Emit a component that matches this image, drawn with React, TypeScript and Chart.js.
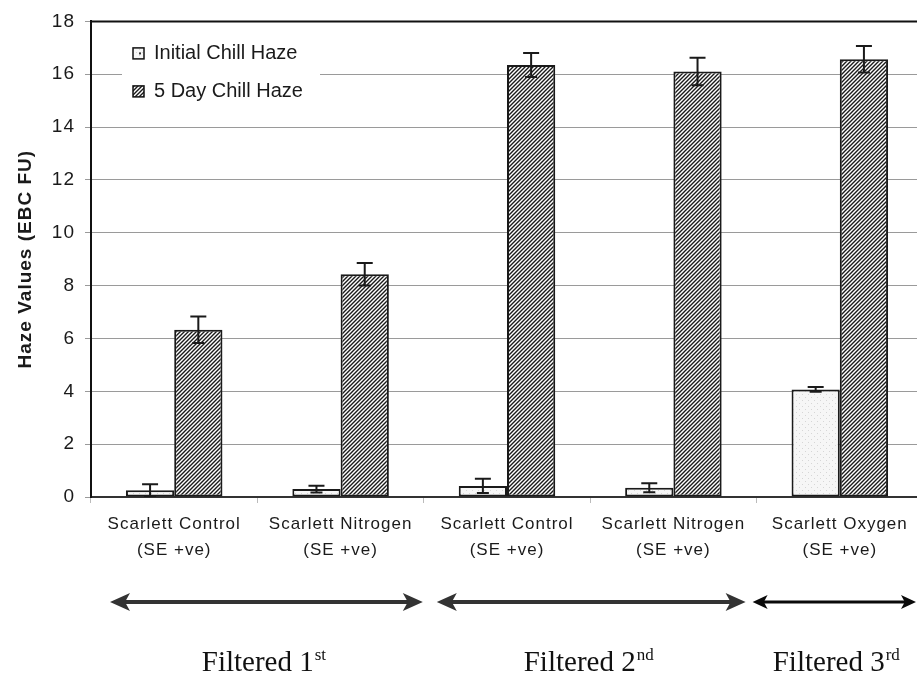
import { useEffect, useRef } from 'react';
import { Chart, registerables } from 'chart.js';

Chart.register(...registerables);

// Sample categories (two-line tick labels)
const categories: string[][] = [
  ['Scarlett Control', '(SE +ve)'],
  ['Scarlett Nitrogen', '(SE +ve)'],
  ['Scarlett Control', '(SE +ve)'],
  ['Scarlett Nitrogen', '(SE +ve)'],
  ['Scarlett Oxygen', '(SE +ve)'],
];

// Haze readings (EBC FU) and their standard errors
const initialHaze = [0.26, 0.3, 0.42, 0.35, 4.07];
const initialHazeSE = [0.22, 0.13, 0.27, 0.17, 0.09];
const fiveDayHaze = [6.33, 8.43, 16.35, 16.1, 16.57];
const fiveDayHazeSE = [0.5, 0.43, 0.45, 0.52, 0.5];

const seriesNames = ['Initial Chill Haze', '5 Day Chill Haze'];

// Y axis range
const yMax = 18;
const yStep = 2;

// Filtration groupings shown beneath the axis
const filterGroups = [
  { label: 'Filtered 1', sup: 'st', first: 0, last: 1 },
  { label: 'Filtered 2', sup: 'nd', first: 2, last: 3 },
  { label: 'Filtered 3', sup: 'rd', first: 4, last: 4 },
];

const SANS = '"Liberation Sans", Arial, sans-serif';
const SERIF = '"Liberation Serif", "Times New Roman", serif';

function makeHatch(): CanvasPattern | string {
  const size = 4;
  const c = document.createElement('canvas');
  c.width = size;
  c.height = size;
  const g = c.getContext('2d');
  if (!g) return '#777';
  g.fillStyle = '#ffffff';
  g.fillRect(0, 0, size, size);
  g.strokeStyle = '#1a1a1a';
  g.lineWidth = 1.4;
  g.beginPath();
  g.moveTo(-1, size + 1);
  g.lineTo(size + 1, -1);
  g.moveTo(-1, 1);
  g.lineTo(1, -1);
  g.moveTo(size - 1, size + 1);
  g.lineTo(size + 1, size - 1);
  g.stroke();
  return g.createPattern(c, 'repeat') || '#777';
}

function makeSpeckle(): CanvasPattern | string {
  const size = 6;
  const c = document.createElement('canvas');
  c.width = size;
  c.height = size;
  const g = c.getContext('2d');
  if (!g) return '#f4f4f4';
  g.fillStyle = '#f6f6f6';
  g.fillRect(0, 0, size, size);
  g.fillStyle = '#d6d6d6';
  g.fillRect(1, 1, 1, 1);
  g.fillRect(4, 4, 1, 1);
  return g.createPattern(c, 'repeat') || '#f4f4f4';
}

function drawArrow(
  ctx: CanvasRenderingContext2D,
  x1: number,
  x2: number,
  y: number,
  lw: number,
  headLen: number,
  headHalf: number,
  color: string
) {
  ctx.save();
  ctx.strokeStyle = color;
  ctx.fillStyle = color;
  ctx.lineWidth = lw;
  ctx.beginPath();
  ctx.moveTo(x1 + headLen * 0.7, y);
  ctx.lineTo(x2 - headLen * 0.7, y);
  ctx.stroke();
  ctx.beginPath();
  ctx.moveTo(x1, y);
  ctx.lineTo(x1 + headLen, y - headHalf);
  ctx.lineTo(x1 + headLen * 0.75, y);
  ctx.lineTo(x1 + headLen, y + headHalf);
  ctx.closePath();
  ctx.fill();
  ctx.beginPath();
  ctx.moveTo(x2, y);
  ctx.lineTo(x2 - headLen, y - headHalf);
  ctx.lineTo(x2 - headLen * 0.75, y);
  ctx.lineTo(x2 - headLen, y + headHalf);
  ctx.closePath();
  ctx.fill();
  ctx.restore();
}

export default function App() {
  const canvasRef = useRef<HTMLCanvasElement | null>(null);

  useEffect(() => {
    const canvas = canvasRef.current;
    if (!canvas) return;
    const hatch = makeHatch();
    const speckle = makeSpeckle();
    const errors = [initialHazeSE, fiveDayHazeSE];
    const fills = [speckle, hatch];

    // axis text is set slightly letter-spaced
    const spacedAxisText = {
      id: 'spacedAxisText',
      beforeDraw(chart: any) {
        (chart.ctx as any).letterSpacing = '1px';
      },
      beforeDatasetsDraw(chart: any) {
        (chart.ctx as any).letterSpacing = '0px';
      },
    };

    const errorBars = {
      id: 'errorBars',
      afterDatasetsDraw(chart: any) {
        const { ctx } = chart;
        const y = chart.scales.y;
        ctx.save();
        ctx.strokeStyle = '#1a1a1a';
        ctx.lineWidth = 2;
        chart.data.datasets.forEach((ds: any, i: number) => {
          const meta = chart.getDatasetMeta(i);
          meta.data.forEach((el: any, j: number) => {
            const v = ds.data[j];
            const e = errors[i][j];
            const top = y.getPixelForValue(v + e);
            const bot = y.getPixelForValue(Math.max(0, v - e));
            ctx.beginPath();
            ctx.moveTo(el.x, top);
            ctx.lineTo(el.x, bot);
            ctx.moveTo(el.x - 8, top);
            ctx.lineTo(el.x + 8, top);
            ctx.moveTo(el.x - 6, bot);
            ctx.lineTo(el.x + 6, bot);
            ctx.stroke();
          });
        });
        ctx.restore();
      },
    };

    const frameAndLegend = {
      id: 'frameAndLegend',
      afterDatasetsDraw(chart: any) {
        const { ctx, chartArea } = chart;
        ctx.save();
        // top frame line
        ctx.strokeStyle = '#111';
        ctx.lineWidth = 2;
        ctx.beginPath();
        ctx.moveTo(chartArea.left, chartArea.top);
        ctx.lineTo(chartArea.right, chartArea.top);
        ctx.stroke();

        // legend panel
        const lx = chartArea.left + 31;
        const ly = chartArea.top + 10;
        ctx.fillStyle = '#ffffff';
        ctx.fillRect(lx, ly, 198, 80);
        ctx.font = `20px ${SANS}`;
        ctx.textBaseline = 'middle';
        ctx.textAlign = 'left';
        seriesNames.forEach((name, i) => {
          const cy = chartArea.top + 32 + i * 38;
          const bx = chartArea.left + 42;
          ctx.fillStyle = fills[i] as any;
          ctx.fillRect(bx, cy - 5.5, 11, 11);
          if (i === 0) {
            ctx.fillStyle = '#333';
            ctx.fillRect(bx + 6, cy - 1, 2, 2);
          }
          ctx.strokeStyle = '#111';
          ctx.lineWidth = 1.5;
          ctx.strokeRect(bx, cy - 5.5, 11, 11);
          ctx.fillStyle = '#1a1a1a';
          ctx.fillText(name, bx + 21, cy);
        });
        ctx.restore();
      },
      afterDraw(chart: any) {
        const { ctx, chartArea } = chart;
        const x = chart.scales.x;
        const half = (x.getPixelForValue(1) - x.getPixelForValue(0)) / 2;
        const insets = [
          [19, 1],
          [13, 11],
          [-4, 7],
        ];
        const textShift = [6, -2, -4];
        const arrowY = chartArea.bottom + 105;
        filterGroups.forEach((g, i) => {
          const left = x.getPixelForValue(g.first) - half + insets[i][0];
          const right = x.getPixelForValue(g.last) + half - insets[i][1];
          if (i < 2) drawArrow(ctx, left, right, arrowY, 4, 20, 9, '#333');
          else drawArrow(ctx, left, right, arrowY, 3, 15, 7, '#0a0a0a');
          const cx = (x.getPixelForValue(g.first) + x.getPixelForValue(g.last)) / 2;
          ctx.save();
          ctx.fillStyle = '#111';
          ctx.textBaseline = 'alphabetic';
          ctx.font = `29px ${SERIF}`;
          const w1 = ctx.measureText(g.label).width;
          ctx.font = `17px ${SERIF}`;
          const w2 = ctx.measureText(g.sup).width;
          const startX = cx - (w1 + w2) / 2 + textShift[i];
          const base = chartArea.bottom + 174;
          ctx.textAlign = 'left';
          ctx.font = `29px ${SERIF}`;
          ctx.fillText(g.label, startX, base);
          ctx.font = `17px ${SERIF}`;
          ctx.fillText(g.sup, startX + w1 + 1, base - 11);
          ctx.restore();
        });
      },
    };

    const chart = new Chart(canvas, {
      type: 'bar',
      data: {
        labels: categories,
        datasets: [
          {
            label: seriesNames[0],
            data: initialHaze,
            backgroundColor: speckle as any,
            borderColor: '#1a1a1a',
            borderWidth: 2,
            borderSkipped: false,
          },
          {
            label: seriesNames[1],
            data: fiveDayHaze,
            backgroundColor: hatch as any,
            borderColor: '#1a1a1a',
            borderWidth: 2,
            borderSkipped: false,
          },
        ],
      },
      options: {
        responsive: false,
        animation: false,
        devicePixelRatio: 1,
        layout: { padding: { top: 19, right: 7, left: 0, bottom: 0 } },
        datasets: {
          bar: { categoryPercentage: 0.58, barPercentage: 1.0 },
        },
        plugins: {
          legend: { display: false },
          tooltip: { enabled: false },
          title: { display: false },
        },
        scales: {
          x: {
            offset: true,
            grid: {
              display: true,
              drawOnChartArea: false,
              offset: true,
              tickLength: 6,
              color: '#bbbbbb',
            },
            border: { display: true, color: '#333', width: 2 },
            ticks: {
              color: '#1a1a1a',
              font: { family: SANS, size: 17, lineHeight: 1.53 },
              padding: 8,
              maxRotation: 0,
              autoSkip: false,
            },
            afterFit: (s: any) => {
              s.height = 179;
            },
          },
          y: {
            min: 0,
            max: yMax,
            ticks: {
              stepSize: yStep,
              color: '#1a1a1a',
              font: { family: SANS, size: 19 },
              padding: 10,
            },
            grid: {
              color: '#9a9a9a',
              lineWidth: 1,
              tickLength: 6,
            },
            border: { display: true, color: '#111', width: 2 },
            title: {
              display: true,
              text: 'Haze Values (EBC FU)',
              color: '#1a1a1a',
              font: { family: SANS, size: 19, weight: 'bold' },
              padding: { top: 14, bottom: 0 },
            },
            afterFit: (s: any) => {
              s.width = 91;
            },
          },
        },
      },
      plugins: [spacedAxisText, errorBars, frameAndLegend],
    });
    return () => chart.destroy();
  }, []);

  return (
    <div
      style={{
        position: 'fixed',
        left: 0,
        top: 0,
        width: 917,
        height: 676,
        overflow: 'hidden',
        background: '#ffffff',
      }}
    >
      <canvas ref={canvasRef} width={930} height={676} style={{ display: 'block' }} />
    </div>
  );
}
